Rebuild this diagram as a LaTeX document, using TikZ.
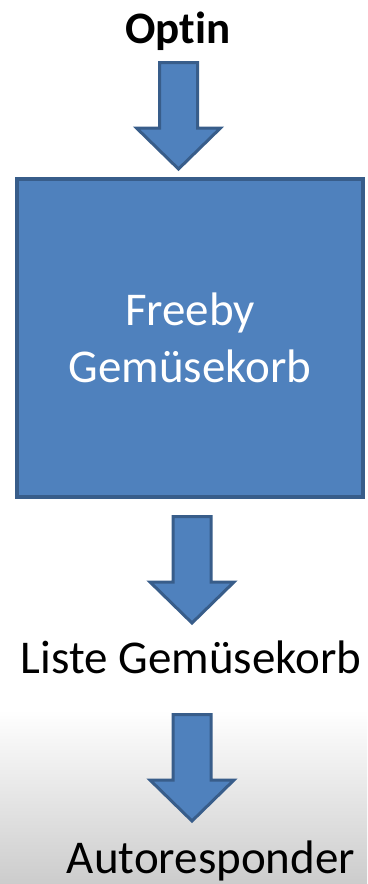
\documentclass[tikz,border=0pt]{standalone}
\usepackage{fontspec}
\setmainfont{Carlito}[Ligatures=NoCommon]
\usetikzlibrary{positioning}
\definecolor{boxblue}{HTML}{4F81BD}
\definecolor{boxedge}{HTML}{385D8A}
\tikzset{blockarrow/.pic = {\draw [boxedge, fill=boxblue, line width=3pt, line join=miter]
                              (-19,1.5) -- (19,1.5) -- (19,67) -- (42,67) -- (0,108) -- (-42,67) -- (-19,67) -- cycle;}}
\tikzset{label/.style = {anchor=base, inner sep=0, font=\fontsize{47}{56}\selectfont}}
\tikzset{bigbox/.style = {draw=boxedge, fill=boxblue, line width=4pt, text=white, align=center,
                          minimum width=346pt, minimum height=318pt, font=\fontsize{47}{57}\selectfont}}

\begin{document}
\begin{tikzpicture}[x=1pt, y=-1pt]
      \useasboundingbox (0,0) rectangle (367,884);
      \shade [top color=white, bottom color=gray!40] (0,710) rectangle (367,884);

      \node [label, font=\fontsize{45}{54}\bfseries] (optin) at (178,43) {Optin};
      \node [bigbox] (freeby) at (190,338) {Freeby\\Gemüsekorb};
      \node [label] (liste) at (191,673) {Liste Gemüsekorb};
      \node [label] (auto) at (211,873) {Autoresponder};

      \pic at (178.5,61) {blockarrow};
      \pic at (192,515) {blockarrow};
      \pic at (192,713) {blockarrow};
    \end{tikzpicture}
\end{document}
